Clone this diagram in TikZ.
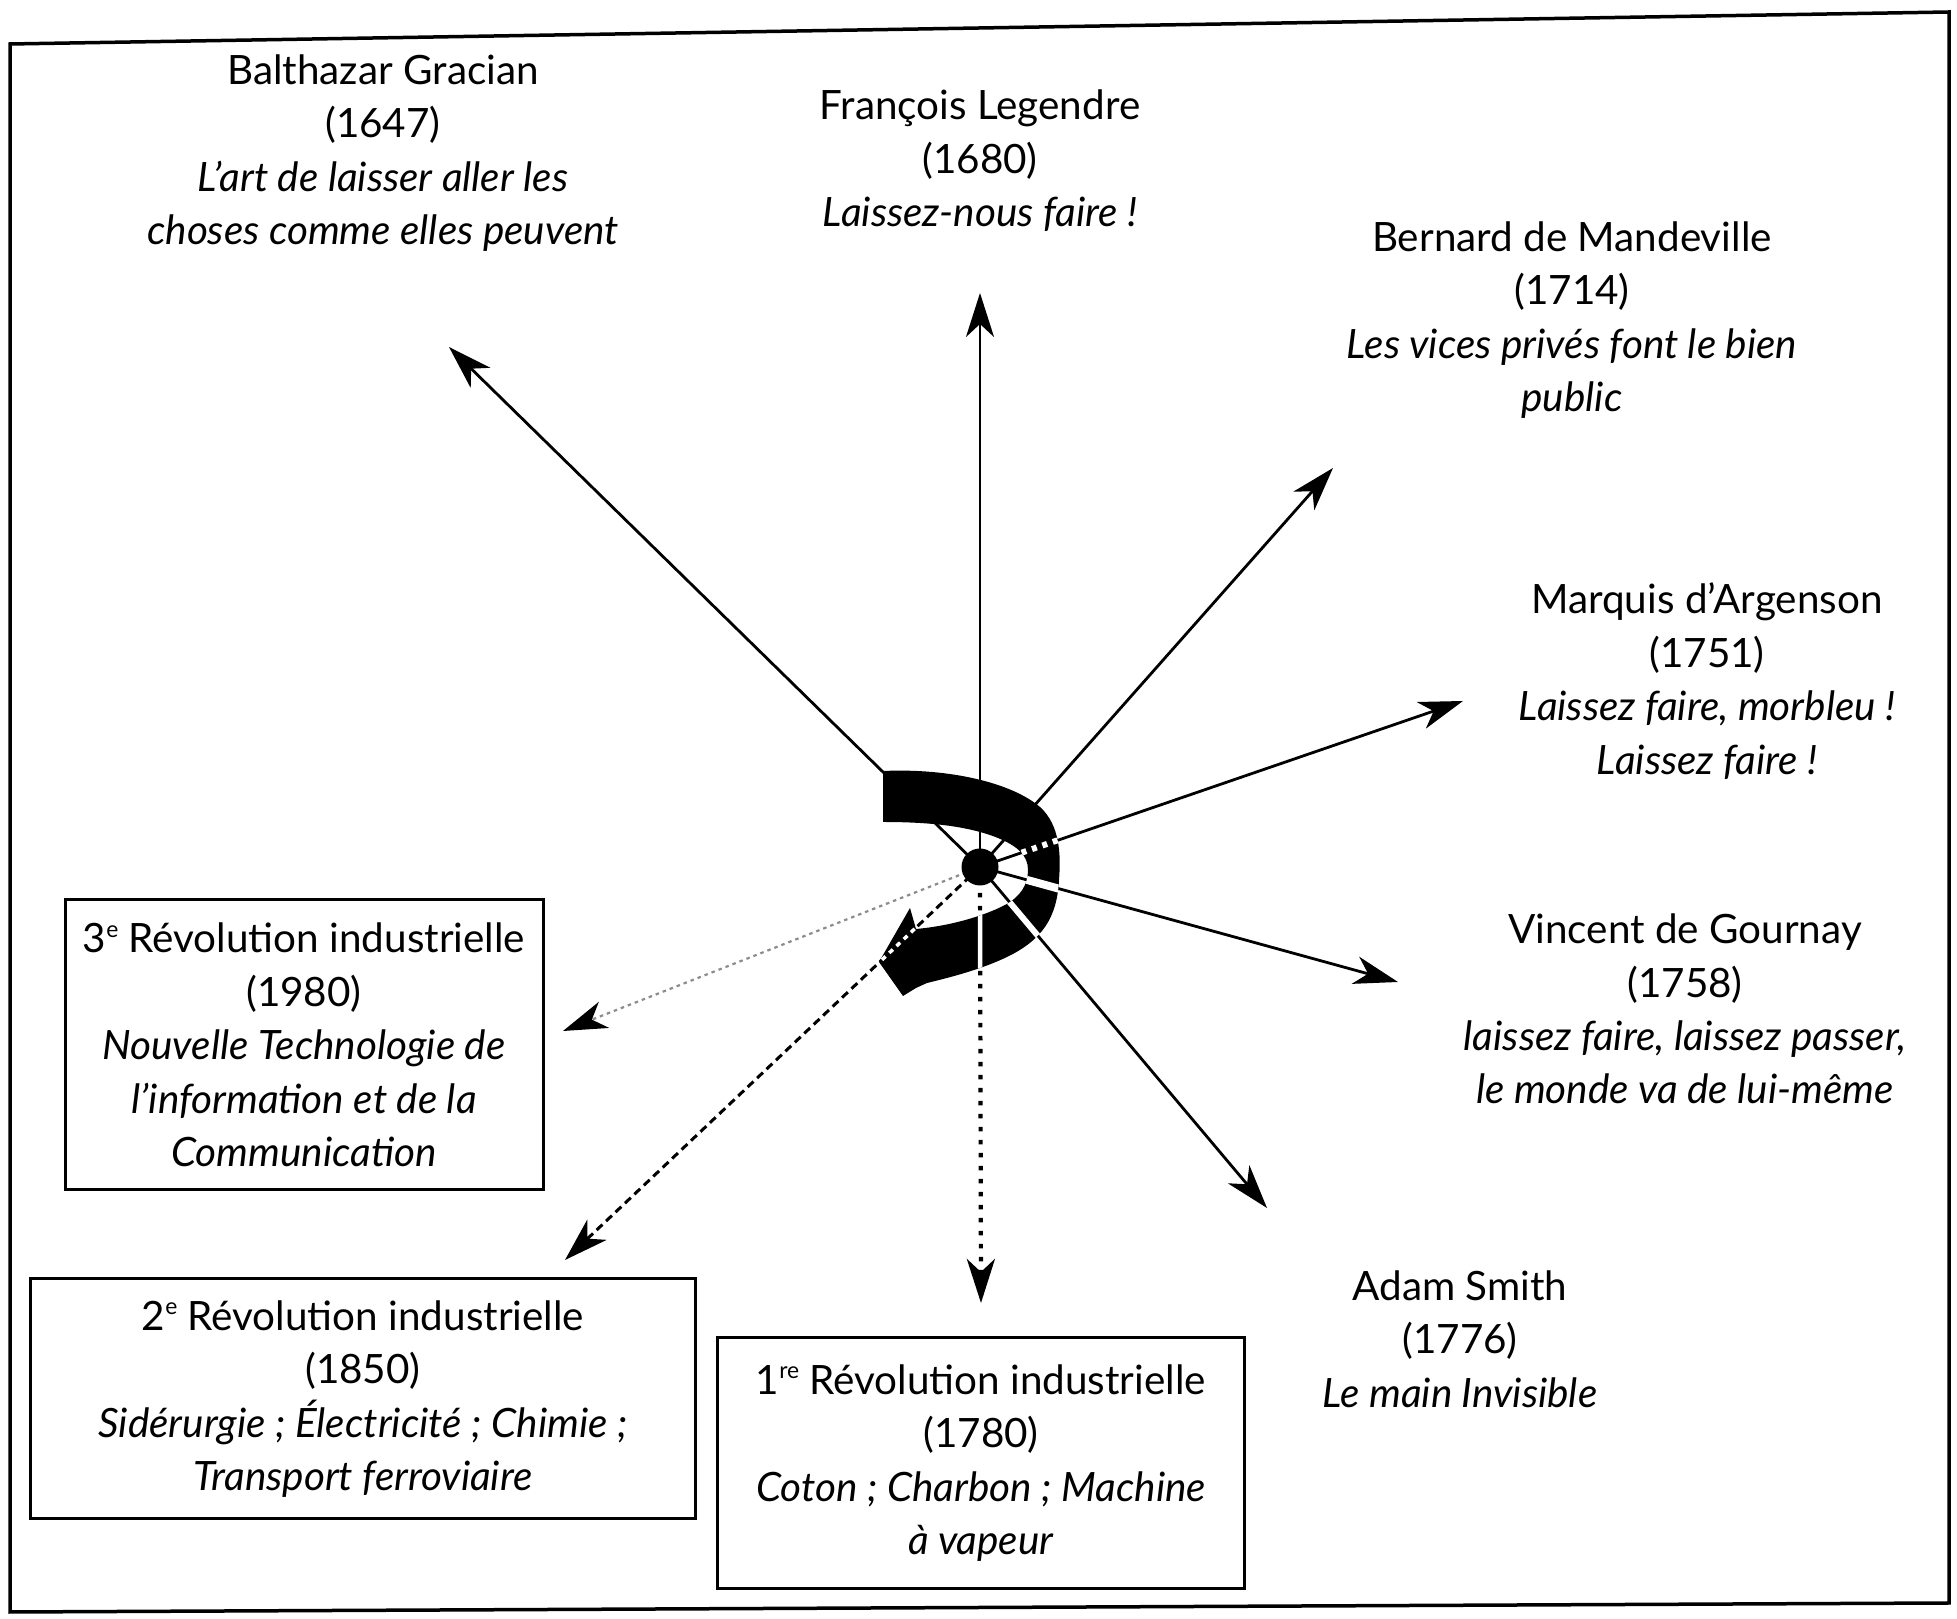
\documentclass[tikz,border=0pt]{standalone}
\usepackage{fontspec}
\setmainfont{Lato}
\usetikzlibrary{arrows.meta}
\newcommand\ordsup[1]{\raisebox{0.75ex}{\fontsize{6.5}{6.5}\selectfont #1}}
\begin{document}
\begin{tikzpicture}[x=0.1mm,y=-0.1mm,
  txt/.style={align=center, inner sep=0pt, font=\fontsize{11.5}{15.2}\selectfont},
  era/.style={txt, draw, line width=0.3mm},
  tip/.style={-{Stealth[length=4.4mm,width=2.8mm,inset=1.3mm]}},
  solidray/.style={tip, line width=0.28mm},
  dotray/.style={tip, line width=0.42mm, dash pattern=on 0.45mm off 0.85mm},
  dashray/.style={tip, line width=0.3mm, dash pattern=on 0.8mm off 0.5mm},
  faintray/.style={-{Stealth[length=4.4mm,width=2.8mm,inset=1.3mm,color=black]},
                   line width=0.22mm, draw=black!45, dash pattern=on 0.35mm off 0.4mm},
  knock/.style={draw=white, line width=0.6mm},
  hubdot/.style={circle, fill=black, inner sep=0pt, minimum size=3.7mm}
]
\useasboundingbox (0,0) rectangle (1957,1619);

% outer frame
\draw[line width=0.35mm] (10,44) -- (1949,12) -- (1949,1603) -- (10,1612) -- cycle;

% authors
\node[txt] (gracian) at (383,153) {Balthazar Gracian\\(1647)\\\textit{L’art de laisser aller les}\\\textit{choses comme elles peuvent}};
\node[txt] (legendre) at (980,161) {François Legendre\\(1680)\\\textit{Laissez-nous faire !}};
\node[txt] (mandeville) at (1572,320) {Bernard de Mandeville\\(1714)\\\textit{Les vices privés font le bien}\\\textit{public}};
\node[txt] (argenson) at (1707,681) {Marquis d’Argenson\\(1751)\\\textit{Laissez faire, morbleu !}\\\textit{Laissez faire !}};
\node[txt] (gournay) at (1685,1009) {Vincent de Gournay\\(1758)\\\textit{laissez faire, laissez passer,}\\\textit{le monde va de lui-même}};
\node[txt] (smith) at (1460,1339) {Adam Smith\\(1776)\\\textit{Le main Invisible}};

% industrial revolutions
\node[era, minimum width=47.8mm, minimum height=29mm] (rev3) at (304,1045)
  {3\ordsup{e} Révolution industrielle\\(1980)\\\textit{Nouvelle Technologie de}\\\textit{l’information et de la}\\\textit{Communication}};
\node[era, minimum width=66.5mm, minimum height=24mm] (rev2) at (363,1399)
  {2\ordsup{e} Révolution industrielle\\(1850)\\\textit{Sidérurgie ; Électricité ; Chimie ;}\\\textit{Transport ferroviaire}};
\node[era, minimum width=52.7mm, minimum height=25.1mm] (rev1) at (981,1463)
  {1\ordsup{re} Révolution industrielle\\(1780)\\\textit{Coton ; Charbon ; Machine}\\\textit{à vapeur}};

% hub and arrow ends
\coordinate (hub) at (980,867);
\coordinate (toGracian) at (449,347);
\coordinate (toLegendre) at (980,293);
\coordinate (toMandeville) at (1333,468);
\coordinate (toArgenson) at (1463,701);
\coordinate (toGournay) at (1398,982);
\coordinate (toSmith) at (1267,1208);
\coordinate (toRevOne) at (981,1303);
\coordinate (toRevTwo) at (565,1260);
\coordinate (toRevThree) at (563,1031);

% rays
\draw[solidray] (hub) -- (toGracian);
\draw[solidray] (hub) -- (toLegendre);
\draw[solidray] (hub) -- (toMandeville);
\draw[solidray] (hub) -- (toArgenson);
\draw[solidray] (hub) -- (toGournay);
\draw[solidray] (hub) -- (toSmith);
\draw[dotray] (hub) -- (toRevOne);
\draw[dashray] (hub) -- (toRevTwo);
\draw[faintray] (hub) -- (toRevThree);

% spiral band ending in an arrow
\newcommand\spiralband{(883,771) .. controls (950,768) and (1012,783) .. (1040,807)
  .. controls (1060,825) and (1061,855) .. (1059,880)
  .. controls (1057,918) and (1042,940) .. (1007,957)
  .. controls (982,969) and (952,977) .. (927,983)
  -- (916,988) -- (903,996) -- (879,962) -- (910,908) -- (916,929)
  .. controls (950,926) and (984,916) .. (1005,905)
  .. controls (1020,897) and (1028,885) .. (1028,870)
  .. controls (1028,855) and (1017,846) .. (998,838)
  .. controls (968,826) and (930,822) .. (883,822) -- cycle}
\fill[black] \spiralband;
\begin{scope}
  \clip \spiralband;
  \draw[knock, dash pattern=on 0.5mm off 0.6mm] (hub) -- (toArgenson);
  \draw[knock, line width=0.8mm] (hub) -- (toGournay);
  \draw[knock] (hub) -- (toSmith);
  \draw[knock, line width=0.45mm] (hub) -- (toRevOne);
  \draw[knock, line width=0.35mm, dash pattern=on 0.5mm off 0.5mm] (hub) -- (toRevTwo);
\end{scope}

\node[hubdot] (centre) at (hub) {};
\end{tikzpicture}
\end{document}
